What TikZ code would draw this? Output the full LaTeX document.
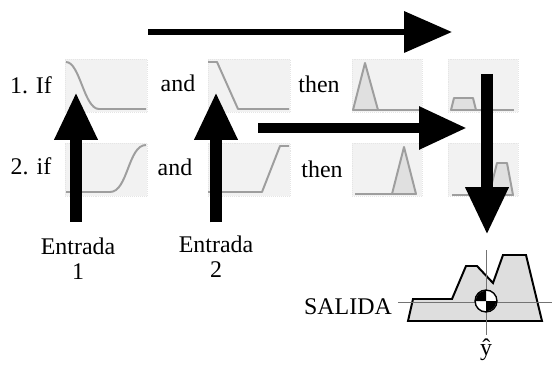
\documentclass[tikz,border=0pt]{standalone}
\usepackage{fontspec}
\setmainfont{Liberation Serif}
\usetikzlibrary{arrows.meta,positioning}

\begin{document}
\begin{tikzpicture}[x=0.025cm, y=-0.025cm,
        font=\fontsize{17}{18}\selectfont,
        panel/.style={fill=black!5, draw=black!10, densely dotted, inner sep=0pt,
            minimum width=2.05cm, minimum height=1.325cm},
        narrowpanel/.style={panel, minimum width=1.75cm},
        curve/.style={draw=black!38, line width=1.4pt, line join=round},
        setfill/.style={curve, fill=black!12},
        bigarrow/.style={line width=#1, -{Triangle[length=34pt, width=28.5pt]}}]
    \useasboundingbox (0, 0) rectangle (552, 367);

    % paneles de las reglas
    \node[panel] (p11) at (106, 85.5) {};
    \node[panel] (p12) at (249, 85.5) {};
    \node[narrowpanel] (p13) at (387, 85.5) {};
    \node[narrowpanel] (p14) at (483, 85.5) {};
    \node[panel] (p21) at (106, 169.5) {};
    \node[panel] (p22) at (249, 169.5) {};
    \node[narrowpanel] (p23) at (387, 169.5) {};
    \node[narrowpanel] (p24) at (483, 169.5) {};

    % funciones de pertenencia
    \draw[curve] (66, 62) .. controls (80, 62) and (84, 109) .. (99, 109) -- (146, 109);
    \draw[curve] (208, 62) -- (217, 62) -- (238, 109) -- (289, 109);
    \draw[setfill] (353, 110) -- (365, 63) -- (378, 110) -- cycle;
    \draw[curve] (378, 110) -- (421, 110);
    \draw[setfill] (451, 110) -- (454, 98) -- (473, 98) -- (476, 110) -- cycle;
    \draw[curve] (476, 110) -- (514, 110);
    \draw[curve] (66, 192) -- (110, 192) .. controls (128, 192) and (128, 145) .. (146, 145);
    \draw[curve] (208, 192) -- (262, 192) -- (280, 146) -- (289, 146);
    \draw[curve] (355, 194) -- (392, 194);
    \draw[setfill] (392, 194) -- (404, 147) -- (416, 194) -- cycle;
    \draw[curve] (452, 195) -- (489, 195);
    \draw[setfill] (489, 195) -- (497, 163) -- (507, 163) -- (513, 195) -- cycle;

    % textos
    \node (r1) at (31, 85) {1. If};
    \node (r2) at (31, 166) {2. if};
    \node (and1) at (178, 83) {and};
    \node (and2) at (175, 167) {and};
    \node (then1) at (319, 84) {then};
    \node (then2) at (322, 169) {then};
    \node[align=center, inner sep=0pt] (ent1) at (78, 259) {Entrada\\1};
    \node[align=center, inner sep=0pt] (ent2) at (216, 256.5) {Entrada\\2};

    % flechas
    \coordinate (t1) at (148, 32);
    \coordinate (t2) at (452, 32);
    \coordinate (u1) at (76, 92);
    \coordinate (u2) at (216, 92);
    \coordinate (m1) at (258, 128);
    \coordinate (m2) at (467, 128);
    \coordinate (d1) at (487, 74);
    \coordinate (d2) at (487, 235);
    \draw[bigarrow=4.3pt] (t1) -- (t2);
    \draw[bigarrow=8.5pt] (ent1.north -| u1) ++(0, -16) -- (u1);
    \draw[bigarrow=8.5pt] (ent2.north -| u2) ++(0, -13) -- (u2);
    \draw[bigarrow=7.8pt] (m1) -- (m2);
    \draw[bigarrow=9.2pt] (d1) -- (d2);

    % salida
    \draw[fill=black!13, line width=1.4pt, line join=miter]
        (408, 321) -- (413, 299) -- (452, 299) -- (466, 266) -- (477, 266)
        -- (493, 283) -- (503, 255) -- (526, 255) -- (542, 321) -- cycle;
    \draw[black!55, line width=0.6pt] (398, 302) -- (552, 302);
    \draw[black!55, line width=0.6pt] (486, 250) -- (486, 335);
    \node[circle, draw, fill=white, line width=1pt, minimum size=15.6pt, inner sep=0pt] (cg) at (486, 301) {};
    \fill (cg.center) -- ++(-7.3pt, 0) arc (180:90:7.3pt) -- cycle;
    \fill (cg.center) -- ++(7.3pt, 0) arc (0:-90:7.3pt) -- cycle;
    \node (salida) at (348, 307) {SALIDA};
    \node[inner sep=0pt] (ylab) at (486, 350) {\^{y}};
\end{tikzpicture}
\end{document}
